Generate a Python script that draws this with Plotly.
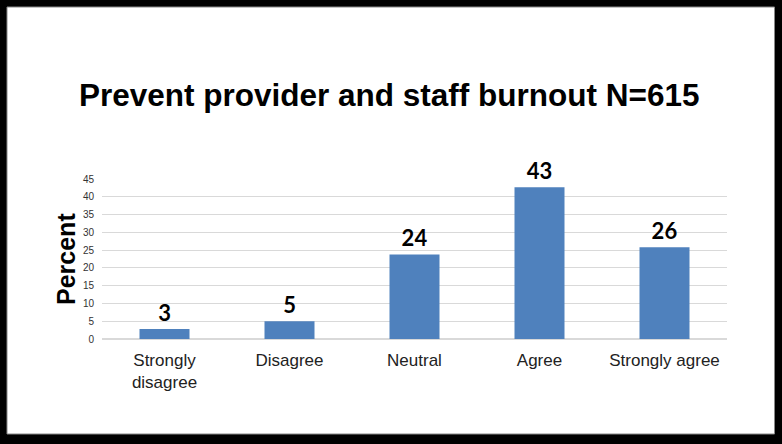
import plotly.graph_objects as go

categories = ["Strongly<br>disagree", "Disagree", "Neutral", "Agree", "Strongly agree"]
percent_values = [2.8, 5.0, 23.8, 42.7, 25.8]
value_labels = ["3", "5", "24", "43", "26"]
y_ticks = [0, 5, 10, 15, 20, 25, 30, 35, 40, 45]

W, H = 782, 444
L, R, T, B = 102, 55, 179, 105
pw = W - L - R
ph = H - T - B

def px_x(p):
    return (p - L) / pw

def px_y(p):
    return (H - B - p) / ph

fig = go.Figure()
fig.add_trace(go.Bar(
    x=categories, y=percent_values,
    text=value_labels, textposition="outside",
    textfont=dict(family="Lato, Carlito, Arial", size=22, color="black", weight="bold"),
    marker=dict(color="#4f81bd", line=dict(width=0)),
    width=0.4, cliponaxis=False,
))

fig.update_layout(
    width=W, height=H,
    margin=dict(l=L, r=R, t=T, b=B),
    paper_bgcolor="black", plot_bgcolor="white",
    showlegend=False,
    font=dict(family="Liberation Sans, Arial", color="#222"),
    xaxis=dict(showline=False, ticks="", tickfont=dict(size=17, color="#222"), showgrid=False,
               ticklabelstandoff=9),
    yaxis=dict(range=[0, 45], tickvals=y_ticks, tickfont=dict(size=10, color="#333"),
               gridcolor="#d9d9d9", gridwidth=1, zeroline=True, zerolinecolor="#d9d9d9",
               showline=False, ticks="", ticklabelstandoff=7),
    shapes=[dict(type="rect", xref="paper", yref="paper", layer="below",
                 x0=px_x(7), x1=px_x(774.5), y0=px_y(434), y1=px_y(7),
                 fillcolor="white", line=dict(color="#888", width=1))],
    annotations=[
        dict(text="<b>Prevent provider and staff burnout N=615</b>", xref="paper", yref="paper",
             x=px_x(389), y=px_y(95), xanchor="center", yanchor="middle", showarrow=False,
             font=dict(family="Liberation Sans, Arial", size=31.5, color="black")),
        dict(text="<b>Percent</b>", xref="paper", yref="paper", textangle=-90,
             x=px_x(66), y=px_y(259), xanchor="center", yanchor="middle", showarrow=False,
             font=dict(family="Liberation Sans, Arial", size=25, color="black")),
    ],
)

fig.write_html("out.html", config={"displayModeBar": False},
               post_script="document.body.style.margin='0';document.body.style.overflow='hidden';")
